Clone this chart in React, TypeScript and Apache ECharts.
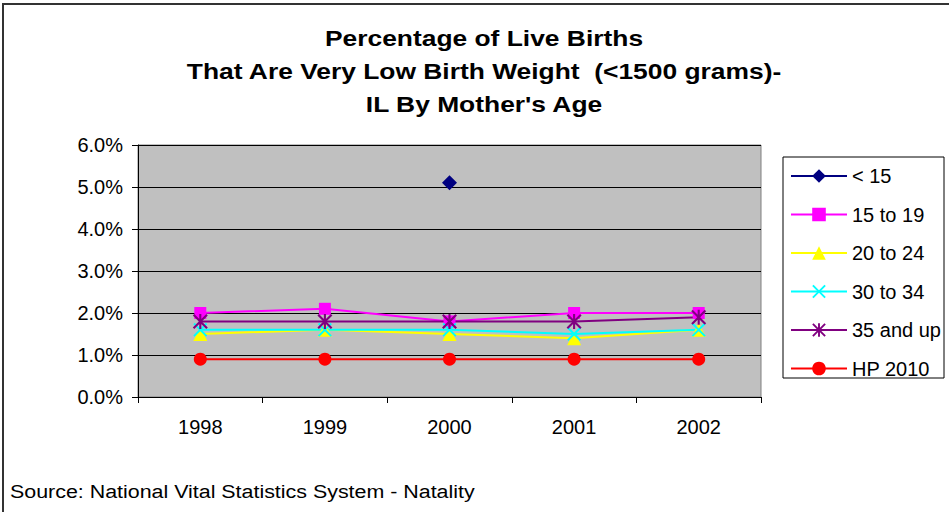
import React, { useEffect, useRef } from "react";
import * as echarts from "echarts";

const years = ["1998", "1999", "2000", "2001", "2002"];
const under15 = [null, null, 5.1, null, null];
const age15to19 = [2.0, 2.1, 1.8, 2.0, 2.0];
const age20to24 = [1.5, 1.6, 1.5, 1.4, 1.6];
const age30to34 = [1.6, 1.6, 1.6, 1.5, 1.6];
const age35up = [1.8, 1.8, 1.8, 1.8, 1.9];
const hp2010 = [0.9, 0.9, 0.9, 0.9, 0.9];

const titleLines = [
  "Percentage of Live Births",
  "That Are Very Low Birth Weight  (<1500 grams)-",
  "IL By Mother's Age",
];
const sourceText = "Source: National Vital Statistics System - Natality";

const FONT = "Liberation Sans, Arial, sans-serif";

const xSymbol =
  "path://M1,0 L5,4 L9,0 L10,1 L6,5 L10,9 L9,10 L5,6 L1,10 L0,9 L4,5 L0,1 Z";
const starSymbol =
  "path://M1,0 L5,4 L9,0 L10,1 L6,5 L10,9 L9,10 L5,6 L1,10 L0,9 L4,5 L0,1 Z M4.3,0 L5.7,0 L5.7,10 L4.3,10 Z";

export default function App() {
  const ref = useRef<HTMLDivElement>(null);
  useEffect(() => {
    if (!ref.current) return;
    const chart = echarts.init(ref.current, undefined, { renderer: "svg" });
    const mk = (name: string, data: any[], color: string, symbol: string, size: number) => ({
      name,
      type: "line",
      data,
      symbol,
      symbolSize: size,
      connectNulls: false,
      showAllSymbol: true,
      lineStyle: { color, width: 2 },
      itemStyle: { color },
      emphasis: { disabled: true },
    });
    chart.setOption({
      animation: false,
      backgroundColor: "#ffffff",
      textStyle: { fontFamily: FONT },
      grid: {
        left: 138,
        top: 145,
        width: 623,
        height: 252,
        show: true,
        backgroundColor: "#C0C0C0",
        borderColor: "#808080",
        borderWidth: 1,
      },
      xAxis: {
        type: "category",
        data: years,
        boundaryGap: true,
        axisLine: { lineStyle: { color: "#000", width: 1 } },
        axisTick: { show: true, length: 6, lineStyle: { color: "#000" } },
        axisLabel: { color: "#000", fontSize: 20, fontFamily: FONT, margin: 20 },
      },
      yAxis: {
        type: "value",
        min: 0,
        max: 6,
        interval: 1,
        axisLine: { show: true, lineStyle: { color: "#000", width: 1 } },
        axisTick: { show: true, length: 6, lineStyle: { color: "#000" } },
        splitLine: { show: true, lineStyle: { color: "#000", width: 1 } },
        axisLabel: {
          color: "#000",
          fontSize: 20,
          fontFamily: FONT,
          margin: 15,
          formatter: (v: number) => v.toFixed(1) + "%",
        },
      },
      legend: {
        orient: "vertical",
        left: 790,
        top: 166,
        padding: 0,
        itemWidth: 56,
        itemHeight: 17,
        itemGap: 18.5,
        textStyle: { color: "#000", fontSize: 20, fontFamily: FONT },
        data: ["< 15", "15 to 19", "20 to 24", "30 to 34", "35 and up", "HP 2010"],
      },
      series: [
        mk("< 15", under15, "#000080", "diamond", 15),
        mk("15 to 19", age15to19, "#FF00FF", "rect", 12),
        mk("20 to 24", age20to24, "#FFFF00", "triangle", 14),
        mk("30 to 34", age30to34, "#00FFFF", xSymbol, 14),
        mk("35 and up", age35up, "#800080", starSymbol, 15),
        mk("HP 2010", hp2010, "#FF0000", "circle", 13),
      ],
      graphic: [
        {
          type: "rect",
          shape: { x: 3, y: 4, width: 1000, height: 600 },
          style: { fill: "none", stroke: "#333", lineWidth: 2 },
          silent: true,
          z: -10,
        },
        {
          type: "rect",
          shape: { x: 783, y: 157, width: 161, height: 221 },
          style: { fill: "none", stroke: "#000", lineWidth: 1 },
          silent: true,
        },
        {
          type: "text",
          x: 484,
          y: 22,
          scaleX: 1.2,
          style: {
            text: titleLines.join("\n"),
            font: "bold 22px " + FONT,
            fill: "#000",
            textAlign: "center",
            textVerticalAlign: "top",
            lineHeight: 33,
          },
        },
        {
          type: "text",
          x: 10,
          y: 492,
          scaleX: 1.19,
          style: {
            text: sourceText,
            font: "18px " + FONT,
            fill: "#000",
            textAlign: "left",
            textVerticalAlign: "middle",
          },
        },
      ],
    });
    return () => chart.dispose();
  }, []);
  return (
    <div
      ref={ref}
      style={{ position: "fixed", left: 0, top: 0, width: 949, height: 512 }}
    />
  );
}
